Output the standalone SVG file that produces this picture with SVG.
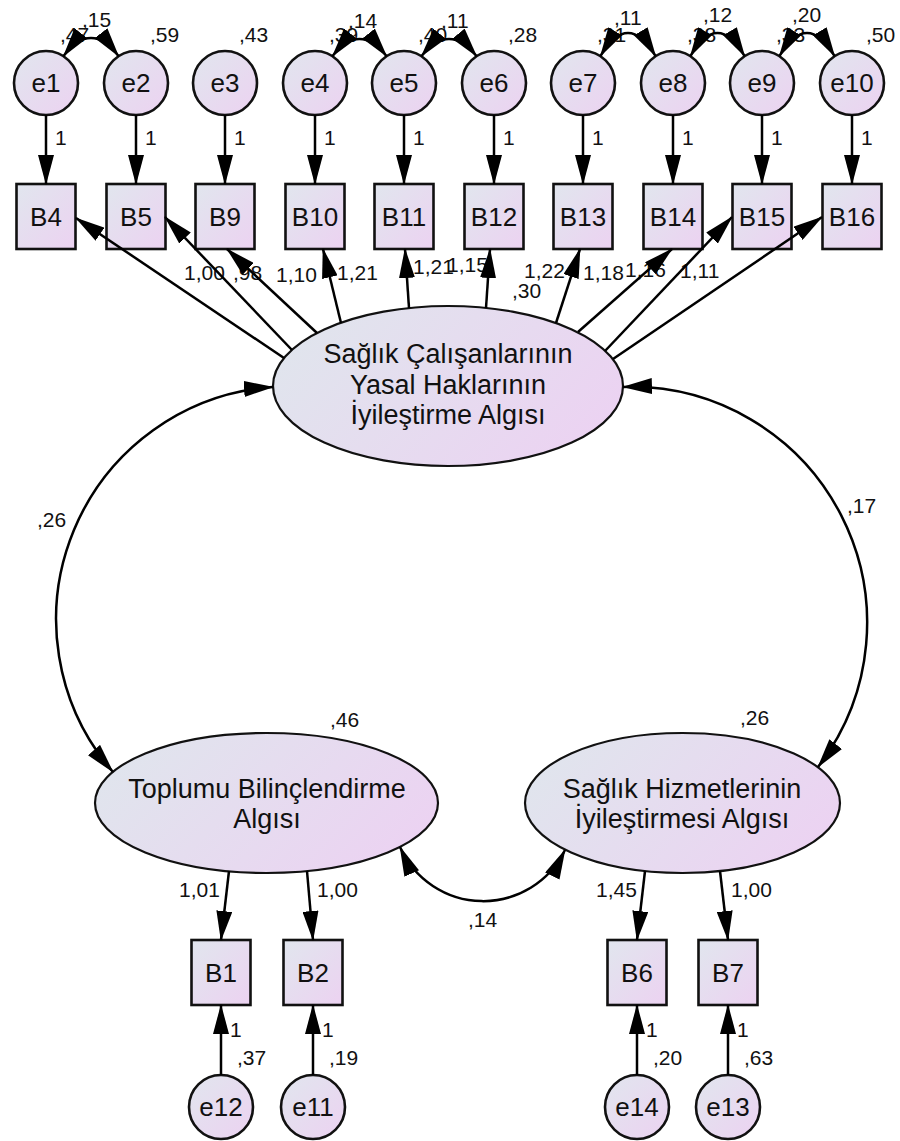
<svg xmlns="http://www.w3.org/2000/svg" width="900" height="1141" viewBox="0 0 900 1141">
<defs>
<linearGradient id="gN" x1="0" y1="0" x2="1" y2="1"><stop offset="0" stop-color="#e1e6ee"/><stop offset="1" stop-color="#ecd2f1"/></linearGradient>
<linearGradient id="gL" x1="0" y1="0.3" x2="1" y2="0.7"><stop offset="0" stop-color="#e0e5ed"/><stop offset="1" stop-color="#ecd2f2"/></linearGradient>
<marker id="ah" viewBox="0 0 30 16" markerWidth="30" markerHeight="16" refX="29" refY="8" orient="auto-start-reverse" markerUnits="userSpaceOnUse"><path d="M0,0 L30,8 L0,16 z" fill="#000"/></marker>
<style>
.n{fill:url(#gN);stroke:#111;stroke-width:2.6}
.lv{fill:url(#gL);stroke:#111;stroke-width:2.2}
.t{font-family:"Liberation Sans",Arial,sans-serif;fill:#111;text-anchor:middle}
.nt{font-size:26px}
.lt{font-size:27px}
.v{font-family:"Liberation Sans",Arial,sans-serif;font-size:21px;fill:#111}
.c{fill:none;stroke:#000;stroke-width:2.5}
.a{marker-end:url(#ah)}
.b{marker-start:url(#ah);marker-end:url(#ah)}
</style>
</defs>
<rect width="900" height="1141" fill="#fff"/>

<g id="nodes">
<g id="e1"><circle class="n" cx="46" cy="83" r="32"/><text class="t nt" x="46" y="92">e1</text></g>
<g id="e2"><circle class="n" cx="136" cy="83" r="32"/><text class="t nt" x="136" y="92">e2</text></g>
<g id="e3"><circle class="n" cx="225" cy="83" r="32"/><text class="t nt" x="225" y="92">e3</text></g>
<g id="e4"><circle class="n" cx="315" cy="83" r="32"/><text class="t nt" x="315" y="92">e4</text></g>
<g id="e5"><circle class="n" cx="404" cy="83" r="32"/><text class="t nt" x="404" y="92">e5</text></g>
<g id="e6"><circle class="n" cx="494" cy="83" r="32"/><text class="t nt" x="494" y="92">e6</text></g>
<g id="e7"><circle class="n" cx="583" cy="83" r="32"/><text class="t nt" x="583" y="92">e7</text></g>
<g id="e8"><circle class="n" cx="673" cy="83" r="32"/><text class="t nt" x="673" y="92">e8</text></g>
<g id="e9"><circle class="n" cx="762" cy="83" r="32"/><text class="t nt" x="762" y="92">e9</text></g>
<g id="e10"><circle class="n" cx="852" cy="83" r="32"/><text class="t nt" x="852" y="92">e10</text></g>

<g id="B4"><rect class="n" x="16.5" y="184" width="59" height="65"/><text class="t nt" x="46" y="226">B4</text></g>
<g id="B5"><rect class="n" x="106.5" y="184" width="59" height="65"/><text class="t nt" x="136" y="226">B5</text></g>
<g id="B9"><rect class="n" x="195.5" y="184" width="59" height="65"/><text class="t nt" x="225" y="226">B9</text></g>
<g id="B10"><rect class="n" x="285.5" y="184" width="59" height="65"/><text class="t nt" x="315" y="226">B10</text></g>
<g id="B11"><rect class="n" x="374.5" y="184" width="59" height="65"/><text class="t nt" x="404" y="226">B11</text></g>
<g id="B12"><rect class="n" x="464.5" y="184" width="59" height="65"/><text class="t nt" x="494" y="226">B12</text></g>
<g id="B13"><rect class="n" x="553.5" y="184" width="59" height="65"/><text class="t nt" x="583" y="226">B13</text></g>
<g id="B14"><rect class="n" x="643.5" y="184" width="59" height="65"/><text class="t nt" x="673" y="226">B14</text></g>
<g id="B15"><rect class="n" x="732.5" y="184" width="59" height="65"/><text class="t nt" x="762" y="226">B15</text></g>
<g id="B16"><rect class="n" x="822.5" y="184" width="59" height="65"/><text class="t nt" x="852" y="226">B16</text></g>

<g id="F1"><ellipse class="lv" cx="448" cy="386" rx="175" ry="80"/>
<text class="t lt" x="448" y="363">Sağlık Çalışanlarının</text>
<text class="t lt" x="448" y="394">Yasal Haklarının</text>
<text class="t lt" x="448" y="424">İyileştirme Algısı</text></g>

<g id="F2"><ellipse class="lv" cx="266.5" cy="803" rx="171.5" ry="70"/>
<text class="t lt" x="267" y="798">Toplumu Bilinçlendirme</text>
<text class="t lt" x="267" y="828">Algısı</text></g>

<g id="F3"><ellipse class="lv" cx="682.5" cy="803" rx="157.5" ry="70"/>
<text class="t lt" x="682" y="798">Sağlık Hizmetlerinin</text>
<text class="t lt" x="682" y="828">İyileştirmesi Algısı</text></g>

<g id="B1"><rect class="n" x="191.5" y="940" width="59" height="65"/><text class="t nt" x="221" y="982">B1</text></g>
<g id="B2"><rect class="n" x="283.5" y="940" width="59" height="65"/><text class="t nt" x="313" y="982">B2</text></g>
<g id="B6"><rect class="n" x="607.5" y="940" width="59" height="65"/><text class="t nt" x="637" y="982">B6</text></g>
<g id="B7"><rect class="n" x="698.5" y="940" width="59" height="65"/><text class="t nt" x="728" y="982">B7</text></g>

<g id="e12"><circle class="n" cx="221" cy="1107" r="32"/><text class="t nt" x="221" y="1116">e12</text></g>
<g id="e11"><circle class="n" cx="313" cy="1107" r="32"/><text class="t nt" x="313" y="1116">e11</text></g>
<g id="e14"><circle class="n" cx="637" cy="1107" r="32"/><text class="t nt" x="637" y="1116">e14</text></g>
<g id="e13"><circle class="n" cx="728" cy="1107" r="32"/><text class="t nt" x="728" y="1116">e13</text></g>
</g>

<g id="labels">
<text class="v" x="60" y="42">,47</text>
<text class="v" x="150" y="42">,59</text>
<text class="v" x="239" y="42">,43</text>
<text class="v" x="329" y="42">,39</text>
<text class="v" x="418" y="42">,40</text>
<text class="v" x="508" y="42">,28</text>
<text class="v" x="597" y="42">,31</text>
<text class="v" x="687" y="42">,38</text>
<text class="v" x="776" y="42">,33</text>
<text class="v" x="866" y="42">,50</text>
<text class="v" x="82" y="27">,15</text>
<text class="v" x="348" y="28">,14</text>
<text class="v" x="441" y="28">,11</text>
<text class="v" x="614" y="25">,11</text>
<text class="v" x="703" y="22">,12</text>
<text class="v" x="792" y="22">,20</text>
<text class="v" x="55" y="145">1</text>
<text class="v" x="145" y="145">1</text>
<text class="v" x="234" y="145">1</text>
<text class="v" x="324" y="145">1</text>
<text class="v" x="413" y="145">1</text>
<text class="v" x="503" y="145">1</text>
<text class="v" x="592" y="145">1</text>
<text class="v" x="682" y="145">1</text>
<text class="v" x="771" y="145">1</text>
<text class="v" x="861" y="145">1</text>
<text class="v" x="184" y="280">1,00</text>
<text class="v" x="233" y="280">,98</text>
<text class="v" x="276" y="282">1,10</text>
<text class="v" x="337" y="280">1,21</text>
<text class="v" x="413" y="274">1,21</text>
<text class="v" x="447" y="272">1,15</text>
<text class="v" x="512" y="298">,30</text>
<text class="v" x="524" y="278">1,22</text>
<text class="v" x="583" y="280">1,18</text>
<text class="v" x="625" y="277">1,16</text>
<text class="v" x="680" y="278">1,11</text>
<text class="v" x="37" y="527">,26</text>
<text class="v" x="847" y="513">,17</text>
<text class="v" x="330" y="727">,46</text>
<text class="v" x="740" y="725">,26</text>
<text class="v" x="468" y="927">,14</text>
<text class="v" x="179" y="897">1,01</text>
<text class="v" x="317" y="897">1,00</text>
<text class="v" x="596" y="897">1,45</text>
<text class="v" x="731" y="897">1,00</text>
<text class="v" x="230" y="1037">1</text>
<text class="v" x="322" y="1037">1</text>
<text class="v" x="646" y="1037">1</text>
<text class="v" x="737" y="1037">1</text>
<text class="v" x="237" y="1065">,37</text>
<text class="v" x="329" y="1065">,19</text>
<text class="v" x="653" y="1065">,20</text>
<text class="v" x="744" y="1065">,63</text>
</g>

<g id="connectors">
<path class="c a" d="M46,115 L46,184"/>
<path class="c a" d="M136,115 L136,184"/>
<path class="c a" d="M225,115 L225,184"/>
<path class="c a" d="M315,115 L315,184"/>
<path class="c a" d="M404,115 L404,184"/>
<path class="c a" d="M494,115 L494,184"/>
<path class="c a" d="M583,115 L583,184"/>
<path class="c a" d="M673,115 L673,184"/>
<path class="c a" d="M762,115 L762,184"/>
<path class="c a" d="M852,115 L852,184"/>
<path class="c b" d="M63.4,56.2 Q91,20 118.6,56.2"/>
<path class="c b" d="M332.4,56.2 Q359.5,22 386.6,56.2"/>
<path class="c b" d="M421.4,56.2 Q449,22 476.6,56.2"/>
<path class="c b" d="M600.4,56.2 Q628,10 655.6,56.2"/>
<path class="c b" d="M690.4,56.2 Q717.5,10 744.6,56.2"/>
<path class="c b" d="M779.4,56.2 Q807,10 834.6,56.2"/>
<path class="c a" d="M284,358 L76,218"/>
<path class="c a" d="M292,350 L165,217"/>
<path class="c a" d="M317,333 L227,249"/>
<path class="c a" d="M341,323 L323,249"/>
<path class="c a" d="M409,308 L405,249"/>
<path class="c a" d="M486,308 L490,249"/>
<path class="c a" d="M556,323 L580,249"/>
<path class="c a" d="M578,332 L672,249"/>
<path class="c a" d="M605,351 L732,217"/>
<path class="c a" d="M613,359 L822,217"/>
<path class="c b" d="M273,387 A233,233 0 0 0 113,772"/>
<path class="c b" d="M623,387 A236,236 0 0 1 818,767"/>
<path class="c b" d="M400,847 A91,91 0 0 0 565,850"/>
<path class="c a" d="M229,871 L221,940"/>
<path class="c a" d="M307,871 L313,940"/>
<path class="c a" d="M645,871 L637,940"/>
<path class="c a" d="M720,871 L728,940"/>
<path class="c a" d="M221,1075 L221,1005"/>
<path class="c a" d="M313,1075 L313,1005"/>
<path class="c a" d="M637,1075 L637,1005"/>
<path class="c a" d="M728,1075 L728,1005"/>
</g>
</svg>
